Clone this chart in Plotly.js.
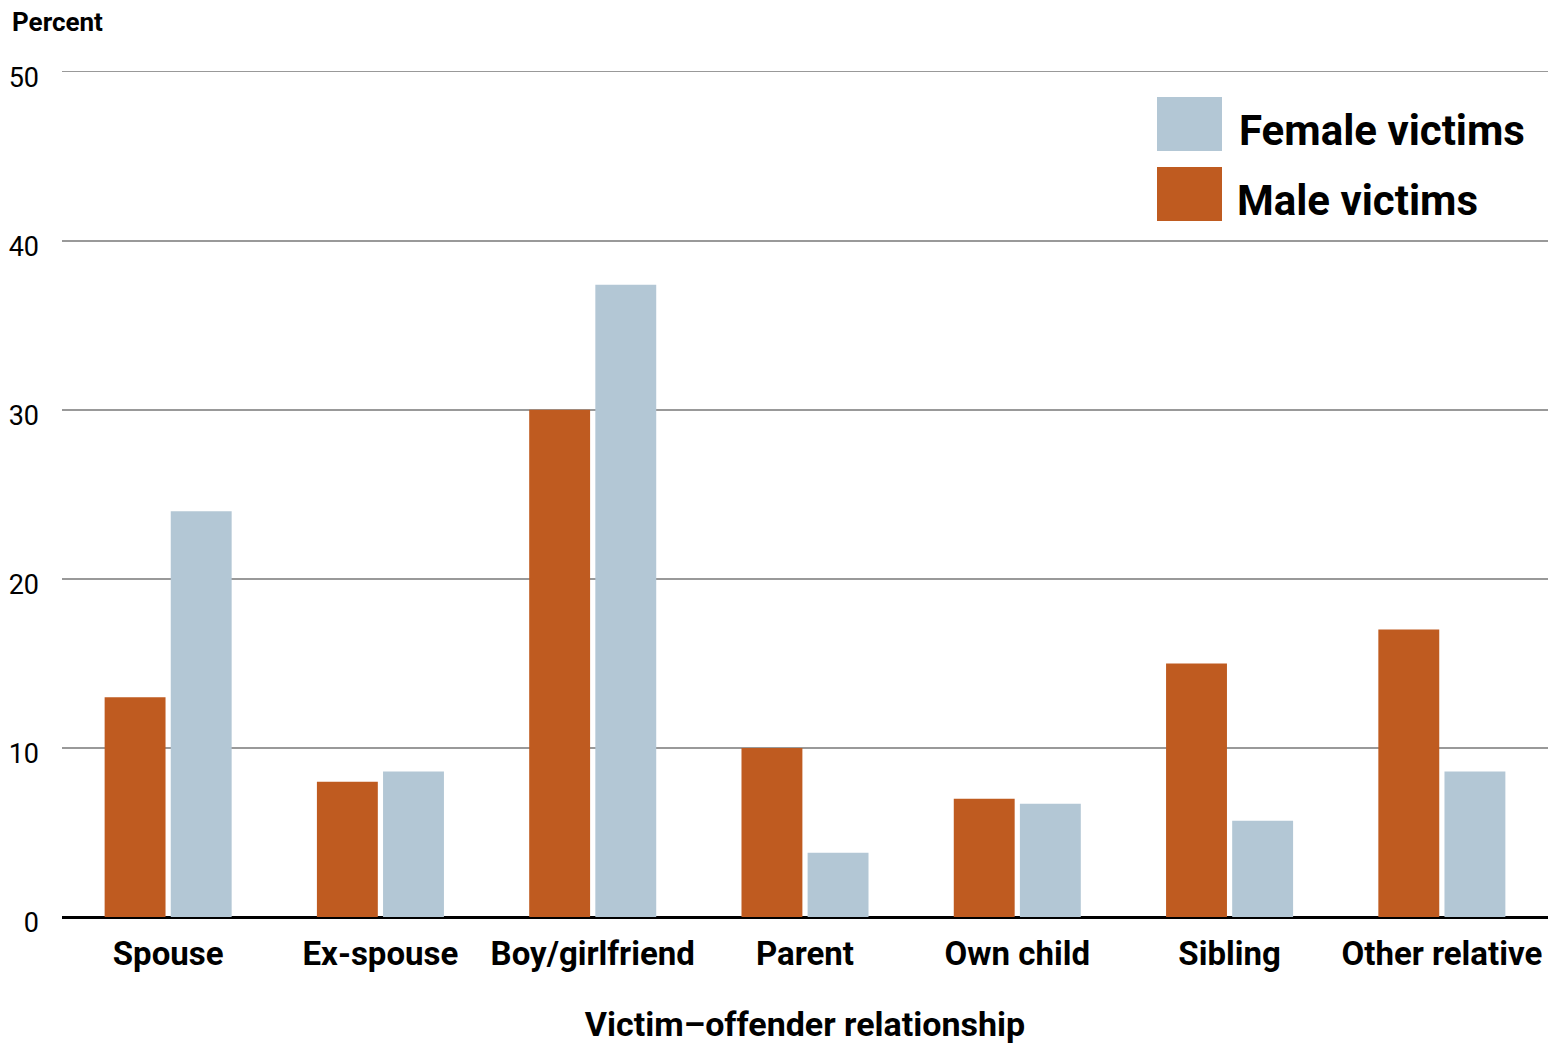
<!DOCTYPE html>
<html>
<head>
<meta charset="utf-8">
<script src="https://cdn.plot.ly/plotly-3.0.1.min.js"></script>
<style>html,body{margin:0;padding:0;background:#fff;}#chart{width:1558px;height:1047px;}</style>
</head>
<body>
<div id="chart"></div>
<script>
const categories = ["Spouse", "Ex-spouse", "Boy/girlfriend", "Parent", "Own child", "Sibling", "Other relative"];
const maleVictims = [13, 8, 30, 10, 7, 15, 17];
const femaleVictims = [24, 8.6, 37.4, 3.8, 6.7, 5.7, 8.6];
const seriesNames = ["Male victims", "Female victims"];
const yTicks = [0, 10, 20, 30, 40, 50];

const FONT = 'Roboto, "DejaVu Sans Condensed", sans-serif';
const ORANGE = '#BF5B20';
const BLUE = '#B3C7D5';

const traces = [
  {type: 'bar', name: seriesNames[0], x: categories, y: maleVictims,
   marker: {color: ORANGE, line: {width: 0}}, showlegend: false, hoverinfo: 'x+y'},
  {type: 'bar', name: seriesNames[1], x: categories, y: femaleVictims,
   marker: {color: BLUE, line: {width: 0}}, showlegend: false, hoverinfo: 'x+y'}
];

// plot area in pixels: x 62..1548, y 70..917
const PL = 62, PW = 1486, PB = 917, PH = 847;
const px = v => (v - PL) / PW;
const py = v => (PB - v) / PH;

const layout = {
  width: 1558, height: 1047,
  margin: {l: PL, r: 1558 - PL - PW, t: PB - PH, b: 1047 - PB},
  paper_bgcolor: '#fff', plot_bgcolor: '#fff',
  barmode: 'group', bargap: 0.377, bargroupgap: 0.079,
  font: {family: FONT, color: '#000'},
  xaxis: {
    type: 'category', showgrid: false, showline: false, zeroline: false,
    ticks: '', tickangle: 0, automargin: false, ticklabelstandoff: 14,
    tickfont: {family: FONT, size: 33, weight: 'bold', color: '#000'},
    title: {text: 'Victim\u2013offender relationship', font: {family: FONT, size: 34, weight: 'bold', color: '#000'}, standoff: 40}
  },
  yaxis: {
    range: [0, 50.1], tickvals: yTicks, ticktext: yTicks.map(String),
    showgrid: true, gridcolor: '#999', gridwidth: 1.5,
    zeroline: true, zerolinecolor: '#000', zerolinewidth: 3,
    showline: false, ticks: '', ticklabelstandoff: 22, ticklabelshift: 6, automargin: false,
    tickfont: {family: FONT, size: 27, color: '#000'}
  },
  shapes: [
    {type: 'rect', xref: 'paper', yref: 'paper', x0: px(1157), x1: px(1222),
     y0: py(151), y1: py(97), fillcolor: BLUE, line: {width: 0}},
    {type: 'rect', xref: 'paper', yref: 'paper', x0: px(1157), x1: px(1222),
     y0: py(221), y1: py(167), fillcolor: ORANGE, line: {width: 0}}
  ],
  annotations: [
    {text: 'Percent', xref: 'paper', yref: 'paper', x: px(10), y: py(22),
     xanchor: 'left', yanchor: 'middle', showarrow: false,
     font: {family: FONT, size: 26, weight: 'bold', color: '#000'}},
    {text: seriesNames[1], xref: 'paper', yref: 'paper', x: px(1237), y: py(130),
     xanchor: 'left', yanchor: 'middle', showarrow: false,
     font: {family: FONT, size: 42, weight: 'bold', color: '#000'}},
    {text: seriesNames[0], xref: 'paper', yref: 'paper', x: px(1235), y: py(201),
     xanchor: 'left', yanchor: 'middle', showarrow: false,
     font: {family: FONT, size: 42, weight: 'bold', color: '#000'}}
  ]
};

Plotly.newPlot('chart', traces, layout, {displayModeBar: false, staticPlot: true});
</script>
</body>
</html>
